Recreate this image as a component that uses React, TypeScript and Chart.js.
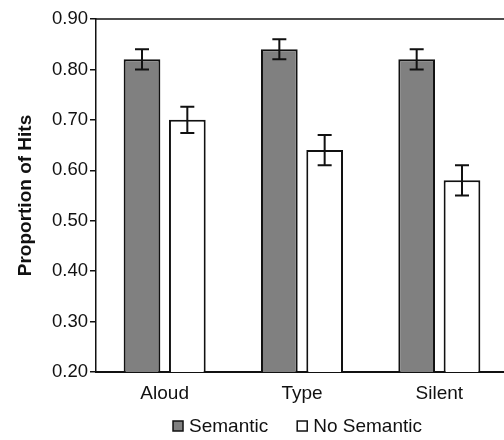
import React, { useEffect, useRef } from "react";
import { Chart, registerables } from "chart.js";

Chart.register(...registerables);

const categories = ["Aloud", "Type", "Silent"];
const seriesNames = ["Semantic", "No Semantic"];
const semantic = [0.82, 0.84, 0.82];
const noSemantic = [0.70, 0.64, 0.58];
const semanticErr = [0.02, 0.02, 0.02];
const noSemanticErr = [0.026, 0.03, 0.03];
const yTicks = [0.2, 0.3, 0.4, 0.5, 0.6, 0.7, 0.8, 0.9];

const FONT = "'Liberation Sans', Arial, Helvetica, sans-serif";
const INK = "#111111";

const errorBarPlugin = {
  id: "errorBars",
  afterDatasetsDraw(chart: any) {
    const { ctx } = chart;
    const y = chart.scales.y;
    chart.data.datasets.forEach((ds: any, di: number) => {
      const meta = chart.getDatasetMeta(di);
      const errs: number[] = ds.errors || [];
      meta.data.forEach((bar: any, i: number) => {
        const v = ds.data[i];
        const e = errs[i];
        if (e == null) return;
        const top = y.getPixelForValue(v + e);
        const bot = y.getPixelForValue(v - e);
        const x = bar.x;
        ctx.save();
        ctx.strokeStyle = INK;
        ctx.lineWidth = 2;
        ctx.beginPath();
        ctx.moveTo(x, top);
        ctx.lineTo(x, bot);
        ctx.moveTo(x - 7, top);
        ctx.lineTo(x + 7, top);
        ctx.moveTo(x - 7, bot);
        ctx.lineTo(x + 7, bot);
        ctx.stroke();
        ctx.restore();
      });
    });
  },
};

const frameAndLegendPlugin = {
  id: "frameAndLegend",
  afterDraw(chart: any) {
    const { ctx, chartArea } = chart;
    ctx.save();
    // top frame line
    ctx.strokeStyle = INK;
    ctx.lineWidth = 1.5;
    ctx.beginPath();
    ctx.moveTo(chartArea.left, chartArea.top);
    ctx.lineTo(chart.width, chartArea.top);
    ctx.stroke();

    // legend
    ctx.font = `19px ${FONT}`;
    ctx.textBaseline = "middle";
    ctx.textAlign = "left";
    const boxSize = 10;
    const gapText = 6;
    const gapItem = 29;
    const cy = 426;
    const items = chart.data.datasets.map((ds: any) => ({
      label: ds.label,
      fill: ds.backgroundColor,
      w: boxSize + gapText + ctx.measureText(ds.label).width,
    }));
    const total = items.reduce((s: number, it: any) => s + it.w, 0) + gapItem * (items.length - 1);
    let x = 297.5 - total / 2;
    items.forEach((it: any) => {
      ctx.fillStyle = it.fill;
      ctx.fillRect(x, cy - boxSize / 2, boxSize, boxSize);
      ctx.lineWidth = 1.5;
      ctx.strokeStyle = INK;
      ctx.strokeRect(x, cy - boxSize / 2, boxSize, boxSize);
      ctx.fillStyle = INK;
      ctx.fillText(it.label, x + boxSize + gapText, cy + 1);
      x += it.w + gapItem;
    });
    ctx.restore();
  },
};

export default function App() {
  const ref = useRef<HTMLCanvasElement | null>(null);

  useEffect(() => {
    if (!ref.current) return;
    const chart = new Chart(ref.current, {
      type: "bar",
      data: {
        labels: categories,
        datasets: [
          {
            label: seriesNames[0],
            data: semantic,
            errors: semanticErr,
            backgroundColor: "#808080",
            borderColor: INK,
            borderWidth: 2,
            barPercentage: 0.81,
            categoryPercentage: 0.66,
          } as any,
          {
            label: seriesNames[1],
            data: noSemantic,
            errors: noSemanticErr,
            backgroundColor: "#ffffff",
            borderColor: INK,
            borderWidth: 2,
            barPercentage: 0.81,
            categoryPercentage: 0.66,
          } as any,
        ],
      },
      options: {
        responsive: false,
        animation: false,
        devicePixelRatio: 1,
        layout: { padding: { top: 19, right: 12, bottom: 0, left: 0 } },
        plugins: {
          legend: { display: false },
          tooltip: { enabled: false },
        },
        scales: {
          x: {
            grid: { display: false, drawTicks: false },
            border: { display: true, color: INK, width: 2 },
            ticks: {
              color: INK,
              font: { family: FONT, size: 19 },
              padding: 10,
            },
            afterFit(scale: any) {
              scale.height = 68;
            },
          },
          y: {
            min: 0.2,
            max: 0.9,
            afterBuildTicks(scale: any) {
              scale.ticks = yTicks.map((v) => ({ value: v }));
            },
            grid: {
              display: true,
              drawOnChartArea: false,
              drawTicks: true,
              tickLength: 6,
              color: INK,
              lineWidth: 1.5,
            },
            border: { display: true, color: INK, width: 1.5 },
            ticks: {
              color: INK,
              font: { family: FONT, size: 18.5 },
              padding: 2,
              callback: (v: any) => Number(v).toFixed(2),
            },
            title: {
              display: true,
              text: "Proportion of Hits",
              color: INK,
              font: { family: FONT, size: 19, weight: "bold" },
              padding: { top: 14, bottom: 0 },
            },
            afterFit(scale: any) {
              scale.width = 96;
            },
          },
        },
      } as any,
      plugins: [errorBarPlugin, frameAndLegendPlugin],
    });
    return () => chart.destroy();
  }, []);

  return (
    <div
      style={{
        position: "fixed",
        left: 0,
        top: 0,
        width: 504,
        height: 440,
        overflow: "hidden",
        background: "#ffffff",
      }}
    >
      <canvas ref={ref} width={520} height={440} style={{ width: 520, height: 440, display: "block" }} />
    </div>
  );
}
